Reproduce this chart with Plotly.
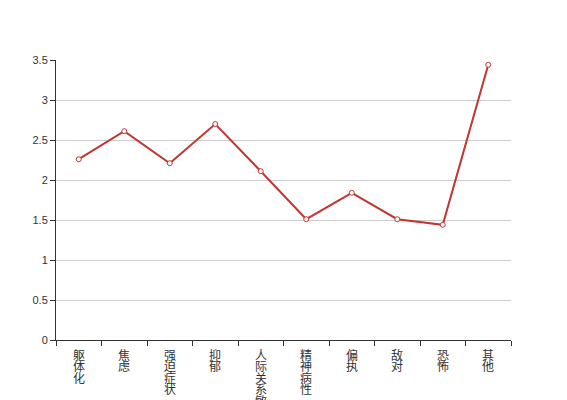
import plotly.graph_objects as go

categories = ["躯体化", "焦虑", "强迫症状", "抑郁", "人际关系敏感", "精神病性", "偏执", "敌对", "恐怖", "其他"]
values = [2.26, 2.61, 2.21, 2.70, 2.11, 1.51, 1.84, 1.51, 1.44, 3.44]
y_ticks = [0, 0.5, 1, 1.5, 2, 2.5, 3, 3.5]

fig = go.Figure()
fig.add_trace(go.Scatter(
    x=categories, y=values, mode='lines+markers',
    line=dict(color='#c23531', width=2),
    marker=dict(symbol='circle', size=5, color='white', line=dict(color='#c23531', width=1)),
    cliponaxis=False
))

# vertical category labels: one annotation per character, stacked under the axis
for cat in categories:
    for i, ch in enumerate(cat):
        fig.add_annotation(
            x=cat, y=0, xref='x', yref='y', text=ch, showarrow=False,
            yanchor='middle', yshift=-(14 + i * 11.5),
            font=dict(size=12, family="Noto Sans CJK SC", color='#333')
        )

# page body has an 8px margin, so the figure is shrunk by that much
fig.update_layout(
    width=559, height=392,
    margin=dict(l=48, r=56, t=52, b=60),
    plot_bgcolor='white', paper_bgcolor='white',
    showlegend=False,
    font=dict(family="Liberation Sans, Noto Sans CJK SC, sans-serif", size=11, color='#333'),
    xaxis=dict(
        type='category', tickmode='array', tickvals=categories, showticklabels=False,
        tickson='boundaries', ticks='outside', ticklen=5, tickcolor='#333',
        showline=True, linecolor='#333', linewidth=1, showgrid=False,
        automargin=False, range=[-0.5, 9.5], zeroline=False
    ),
    yaxis=dict(
        range=[0, 3.5], tickmode='array', tickvals=y_ticks,
        ticks='outside', ticklen=5, tickcolor='#333',
        showline=True, linecolor='#333', linewidth=1,
        showgrid=True, gridcolor='#ccc', gridwidth=1, zeroline=False,
        automargin=False
    ),
)

fig.write_html("out.html")
